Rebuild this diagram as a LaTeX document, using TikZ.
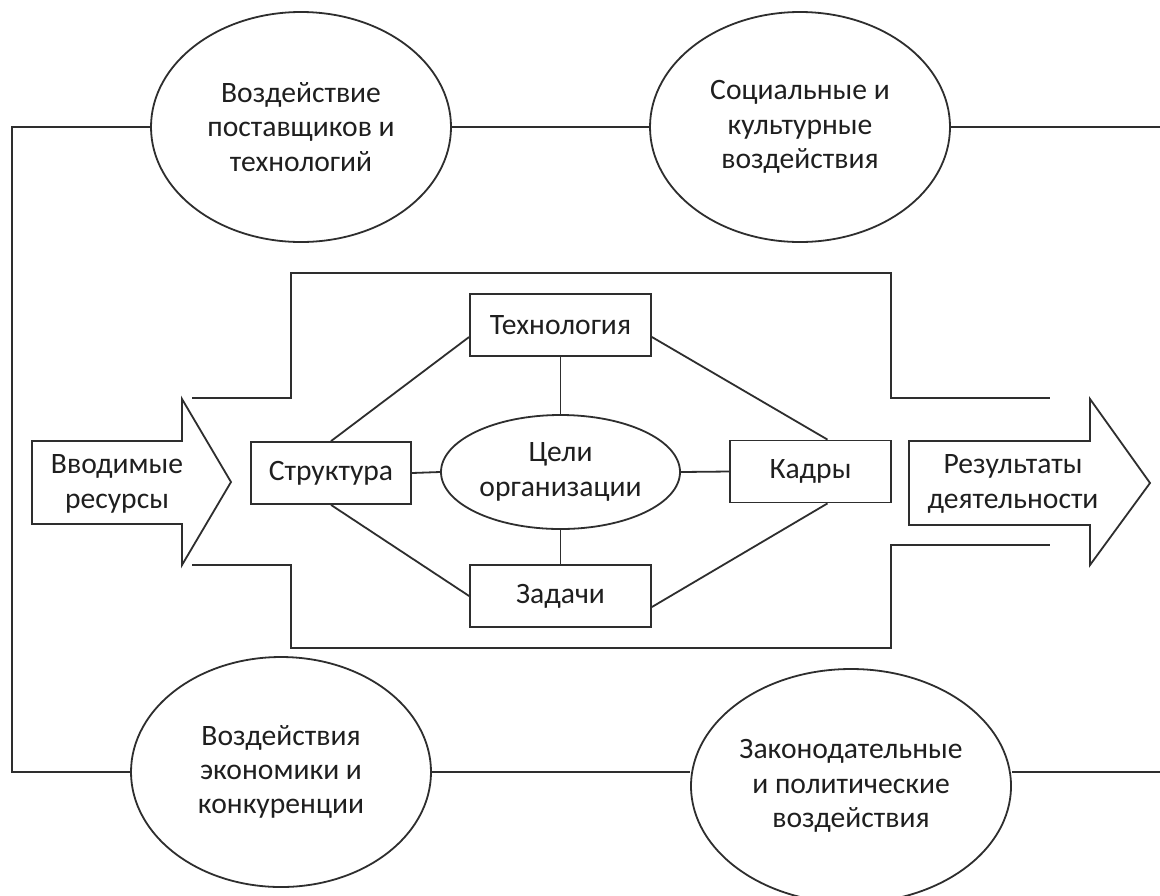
\documentclass[tikz,border=0pt]{standalone}
\usepackage{fontspec}
\setmainfont{Carlito}
\usetikzlibrary{shapes.geometric}
\begin{document}
\begin{tikzpicture}[x=0.5pt,y=-0.5pt,
  ln/.style={draw=black!82, line width=0.9pt},
  txt/.style={align=center, text=black!88, font=\fontsize{14.8}{17.2}\selectfont},
  ell/.style={ellipse, ln, fill=white, inner sep=0pt, txt},
  bigell/.style={ell, minimum width=150pt, minimum height=115pt},
  boxnode/.style={rectangle, ln, fill=white, inner sep=0pt, txt, minimum height=31pt}
]
\useasboundingbox[fill=white] (0,0) rectangle (1160,895);

% outer environment ellipses
\node[bigell] (e1) at (301,127) {Воздействие\\поставщиков и\\технологий};
\node[bigell] (e2) at (800,127) {Социальные и\\культурные\\воздействия};
\node[bigell] (e3) at (281,772) {Воздействия\\экономики и\\конкуренции};
\node[ell, minimum width=160pt, minimum height=117pt] (e4) at (851,786) {Законодательные\\и политические\\воздействия};

% outer frame
\coordinate (tl) at (12,127);
\coordinate (bl) at (12,772);
\coordinate (tr) at (1160,127);
\coordinate (br) at (1160,772);
\draw[ln] (e1.west) -- (tl) -- (bl) -- (e3.west);
\draw[ln] (e1.east) -- (e2.west);
\draw[ln] (e2.east) -- (tr);
\draw[ln] (e3.east) -- (e3.east -| e4.west);
\draw[ln] (e3.east -| e4.east) -- (br);

% inner frame (organisation)
\draw[ln] (192,398) -- (291,398) -- (291,273) -- (891,273) -- (891,398) -- (1050,398);
\draw[ln] (192,565) -- (291,565) -- (291,648) -- (891,648) -- (891,545) -- (1050,545);

% input / output arrows
\draw[ln, fill=white] (32,441) -- (182,441) -- (182,399) -- (231,482) -- (182,565) -- (182,524) -- (32,524) -- cycle;
\node[txt] (inp) at (117,484) {Вводимые\\ресурсы};
\draw[ln, fill=white] (909,441) -- (1090,441) -- (1090,399) -- (1150,483) -- (1090,565) -- (1090,525) -- (909,525) -- cycle;
\node[txt] (out) at (1013,484) {Результаты\\деятельности};

% internal variables
\node[boxnode, minimum width=80pt] (str) at (331,473) {Структура};
\node[boxnode, minimum width=90.5pt] (tech) at (560.5,325) {Технология};
\node[boxnode, minimum width=90.5pt] (task) at (560.5,596) {Задачи};
\node[boxnode, minimum width=80.5pt] (kadr) at (810.5,471.5) {Кадры};
\node[ell, minimum width=119.5pt, minimum height=57pt] (goal) at (560.5,472) {Цели\\организации};

% connectors
\draw[ln] (str.north) -- ([yshift=-6pt]tech.west);
\draw[ln] (str.south) -- (task.west);
\draw[ln] ([yshift=-6pt]tech.east) -- ([xshift=8.5pt]kadr.north);
\draw[ln] ([yshift=-5.5pt]task.east) -- ([xshift=8.5pt]kadr.south);
\draw[ln] (tech.south) -- (goal.north);
\draw[ln] (goal.south) -- (task.north);
\draw[ln] (str.east) -- (goal.west);
\draw[ln] (goal.east) -- (kadr.west);
\end{tikzpicture}
\end{document}
